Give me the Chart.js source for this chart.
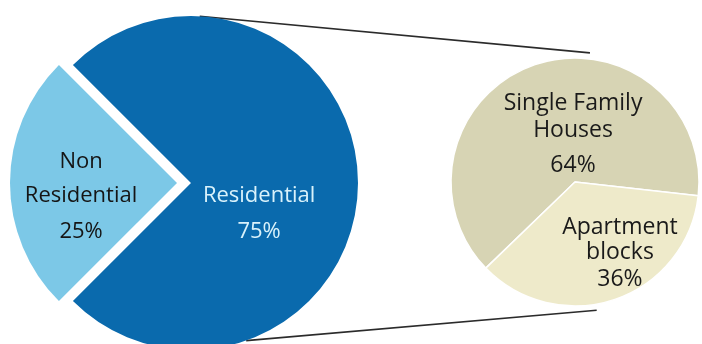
<!DOCTYPE html>
<html>
<head>
<meta charset="utf-8">
<script src="https://cdn.jsdelivr.net/npm/chart.js@4.4.1/dist/chart.umd.min.js"></script>
<style>
  html, body { margin: 0; padding: 0; background: #fff; }
  #wrap { position: relative; width: 702px; height: 344px; overflow: hidden; }
  canvas { position: absolute; }
  #lines { left: 0; top: 0; z-index: 0; }
  #bigPie { left: 0; top: -7px; z-index: 1; }
  #smallPie { left: 445px; top: 52px; z-index: 1; }
</style>
</head>
<body>
<div id="wrap">
  <canvas id="lines" width="702" height="344"></canvas>
  <canvas id="bigPie" width="382" height="380"></canvas>
  <canvas id="smallPie" width="260" height="260"></canvas>
</div>
<script>
// building stock split
const mainLabels = [["Residential"], ["Non", "Residential"]];
const mainValues = [75, 25];

// breakdown of the residential part
const subLabels = [["Single Family", "Houses"], ["Apartment", "blocks"]];
const subValues = [64, 36];

// draws the multi line labels inside each slice
const sliceLabels = {
  id: "sliceLabels",
  afterDatasetsDraw(chart, args, opts) {
    const ctx = chart.ctx;
    const meta = chart.getDatasetMeta(0);
    const labels = chart.data.labels;
    const values = chart.data.datasets[0].data;
    ctx.save();
    ctx.font = opts.font;
    ctx.textAlign = "center";
    ctx.textBaseline = "middle";
    meta.data.forEach((arc, i) => {
      const p = opts.place[i];
      const mid = (arc.startAngle + arc.endAngle) / 2 + p.shift * Math.PI / 180;
      const r = arc.outerRadius * p.frac;
      const cx = arc.x + Math.cos(mid) * r;
      const cy = arc.y + Math.sin(mid) * r + 2;
      const lines = labels[i];
      const total = (lines.length - 1) * p.lh + p.gap;
      let y = cy - total / 2;
      ctx.fillStyle = opts.colors[i];
      lines.forEach((t, k) => {
        ctx.fillText(t, cx, y + k * p.lh);
      });
      ctx.fillText(values[i] + "%", cx, y + (lines.length - 1) * p.lh + p.gap);
    });
    ctx.restore();
  }
};

const bigChart = new Chart(document.getElementById("bigPie"), {
  type: "pie",
  data: {
    labels: mainLabels,
    datasets: [{
      data: mainValues,
      backgroundColor: ["#0a6aad", "#7cc8e7"],
      borderWidth: 0,
      offset: [0, 56]
    }]
  },
  options: {
    responsive: false,
    animation: false,
    events: [],
    rotation: -45,
    radius: 167,
    layout: { padding: 0 },
    plugins: {
      legend: { display: false },
      tooltip: { enabled: false },
      sliceLabels: {
        font: "22px 'Open Sans'",
        colors: ["#d9f2fb", "#151515"],
        place: [
          { frac: 0.443, shift: 23, lh: 34, gap: 36 },
          { frac: 0.662, shift: -6, lh: 34, gap: 36 }
        ]
      }
    }
  },
  plugins: [sliceLabels]
});

const smallChart = new Chart(document.getElementById("smallPie"), {
  type: "pie",
  data: {
    labels: subLabels,
    datasets: [{
      data: subValues,
      backgroundColor: ["#d7d4b4", "#eeeaca"],
      borderColor: "#ffffff",
      borderWidth: 1.5
    }]
  },
  options: {
    responsive: false,
    animation: false,
    events: [],
    rotation: -134,
    radius: 124,
    layout: { padding: 0 },
    plugins: {
      legend: { display: false },
      tooltip: { enabled: false },
      sliceLabels: {
        font: "23px 'Open Sans'",
        colors: ["#1a1a1a", "#1a1a1a"],
        place: [
          { frac: 0.396, shift: 16.5, lh: 27, gap: 35 },
          { frac: 0.664, shift: -14.3, lh: 25, gap: 27 }
        ]
      }
    }
  },
  plugins: [sliceLabels]
});

// connector lines between the two pies
function edgePoint(chart, deg, extra) {
  const arc = chart.getDatasetMeta(0).data[0];
  const c = chart.canvas;
  const a = (deg - 90) * Math.PI / 180;
  const r = arc.outerRadius + extra;
  return [c.offsetLeft + arc.x + Math.cos(a) * r, c.offsetTop + arc.y + Math.sin(a) * r];
}

const lctx = document.getElementById("lines").getContext("2d");
lctx.strokeStyle = "#2b2b2b";
lctx.lineWidth = 1.6;
[[3, 6.6], [160.7, 170.4]].forEach(([a1, a2]) => {
  const p1 = edgePoint(bigChart, a1, 0);
  const p2 = edgePoint(smallChart, a2, 6);
  lctx.beginPath();
  lctx.moveTo(p1[0], p1[1]);
  lctx.lineTo(p2[0], p2[1]);
  lctx.stroke();
});
</script>
</body>
</html>
